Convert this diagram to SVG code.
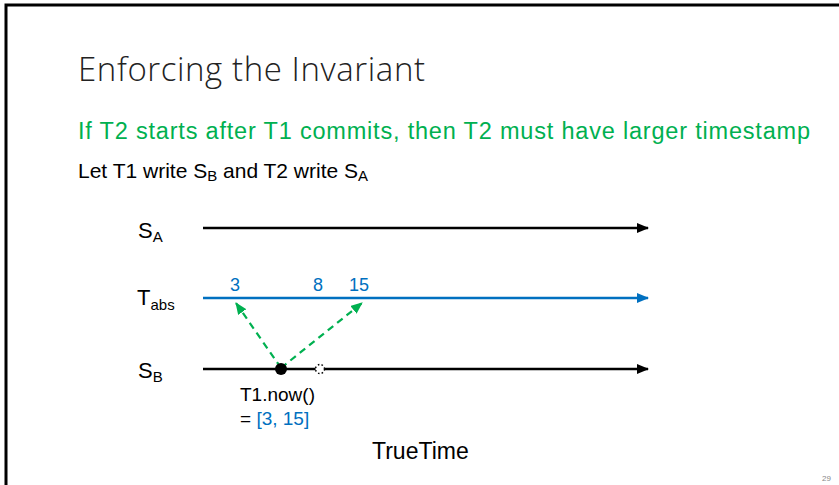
<svg xmlns="http://www.w3.org/2000/svg" width="839" height="485" viewBox="0 0 839 485">
<style>
.sans{font-family:"Liberation Sans",Arial,sans-serif}
.lbl{font-size:22px;fill:#000}
.sub{font-size:15px}
.blue{fill:#0070c0}
.ax{stroke:#000;stroke-width:2.5;fill:none}
.dash{stroke:#00b050;stroke-width:2.2;stroke-dasharray:7,5;fill:none}
</style>
<defs>
<marker id="ab" markerWidth="12" markerHeight="10" refX="11" refY="5" orient="auto" markerUnits="userSpaceOnUse"><path d="M0,0 L12,5 L0,10 Z" fill="#000"/></marker>
<marker id="abl" markerWidth="12" markerHeight="10" refX="11" refY="5" orient="auto" markerUnits="userSpaceOnUse"><path d="M0,0 L12,5 L0,10 Z" fill="#0070c0"/></marker>
<marker id="ag" markerWidth="12" markerHeight="10" refX="11" refY="5" orient="auto" markerUnits="userSpaceOnUse"><path d="M0,0 L12,5 L0,10 Z" fill="#00b050"/></marker>
</defs>
<rect width="839" height="485" fill="#fff"/>
<path d="M6,485 V5 H839" stroke="#000" stroke-width="3" fill="none"/>
<g id="title"><text x="78" y="81" font-family="'Open Sans','Liberation Sans',sans-serif" font-weight="300" font-size="33" fill="#222" textLength="347">Enforcing the Invariant</text></g>
<g id="invariant"><text class="sans" x="78" y="139" font-size="23.5" fill="#00b050" textLength="732">If T2 starts after T1 commits, then T2 must have larger timestamp</text></g>
<g id="letline"><text class="sans" x="78" y="178" font-size="21">Let T1 write S<tspan class="sub" dy="3">B</tspan><tspan dy="-3"> and T2 write S</tspan><tspan class="sub" dy="3">A</tspan></text></g>
<g id="SA"><text class="sans lbl" x="138" y="238">S<tspan class="sub" dy="4">A</tspan></text></g>
<g id="Tabs"><text class="sans lbl" x="137" y="305">T<tspan class="sub" dy="5">abs</tspan></text>
<text class="sans blue" x="235" y="291" font-size="18" text-anchor="middle">3</text>
<text class="sans blue" x="318" y="291" font-size="18" text-anchor="middle">8</text>
<text class="sans blue" x="359" y="291" font-size="18" text-anchor="middle">15</text></g>
<g id="SB"><text class="sans lbl" x="138" y="378">S<tspan class="sub" dy="4">B</tspan></text></g>
<g id="connectors">
<line class="ax" x1="203" y1="228" x2="648" y2="228" marker-end="url(#ab)"/>
<line x1="203" y1="298" x2="648" y2="298" stroke="#0070c0" stroke-width="2.5" marker-end="url(#abl)"/>
<line class="ax" x1="203" y1="369" x2="648" y2="369" marker-end="url(#ab)"/>
<line class="dash" x1="281" y1="368" x2="236" y2="303" marker-end="url(#ag)"/>
<line class="dash" x1="281" y1="368" x2="362" y2="303" marker-end="url(#ag)"/>
</g>
<g id="now"><circle cx="281" cy="369" r="6" fill="#000"/>
<circle cx="320" cy="369" r="4.5" fill="#fff" stroke="#000" stroke-width="1.5" stroke-dasharray="1.5,2.2"/>
<text class="sans" x="240" y="401" font-size="19">T1.now()</text>
<text class="sans" x="240" y="425" font-size="19">= <tspan fill="#0070c0">[3, 15]</tspan></text></g>
<g id="truetime"><text class="sans" x="372" y="459" font-size="23">TrueTime</text></g>
<g id="page"><text class="sans" x="822" y="481" font-size="8" fill="#888">29</text></g>
</svg>
